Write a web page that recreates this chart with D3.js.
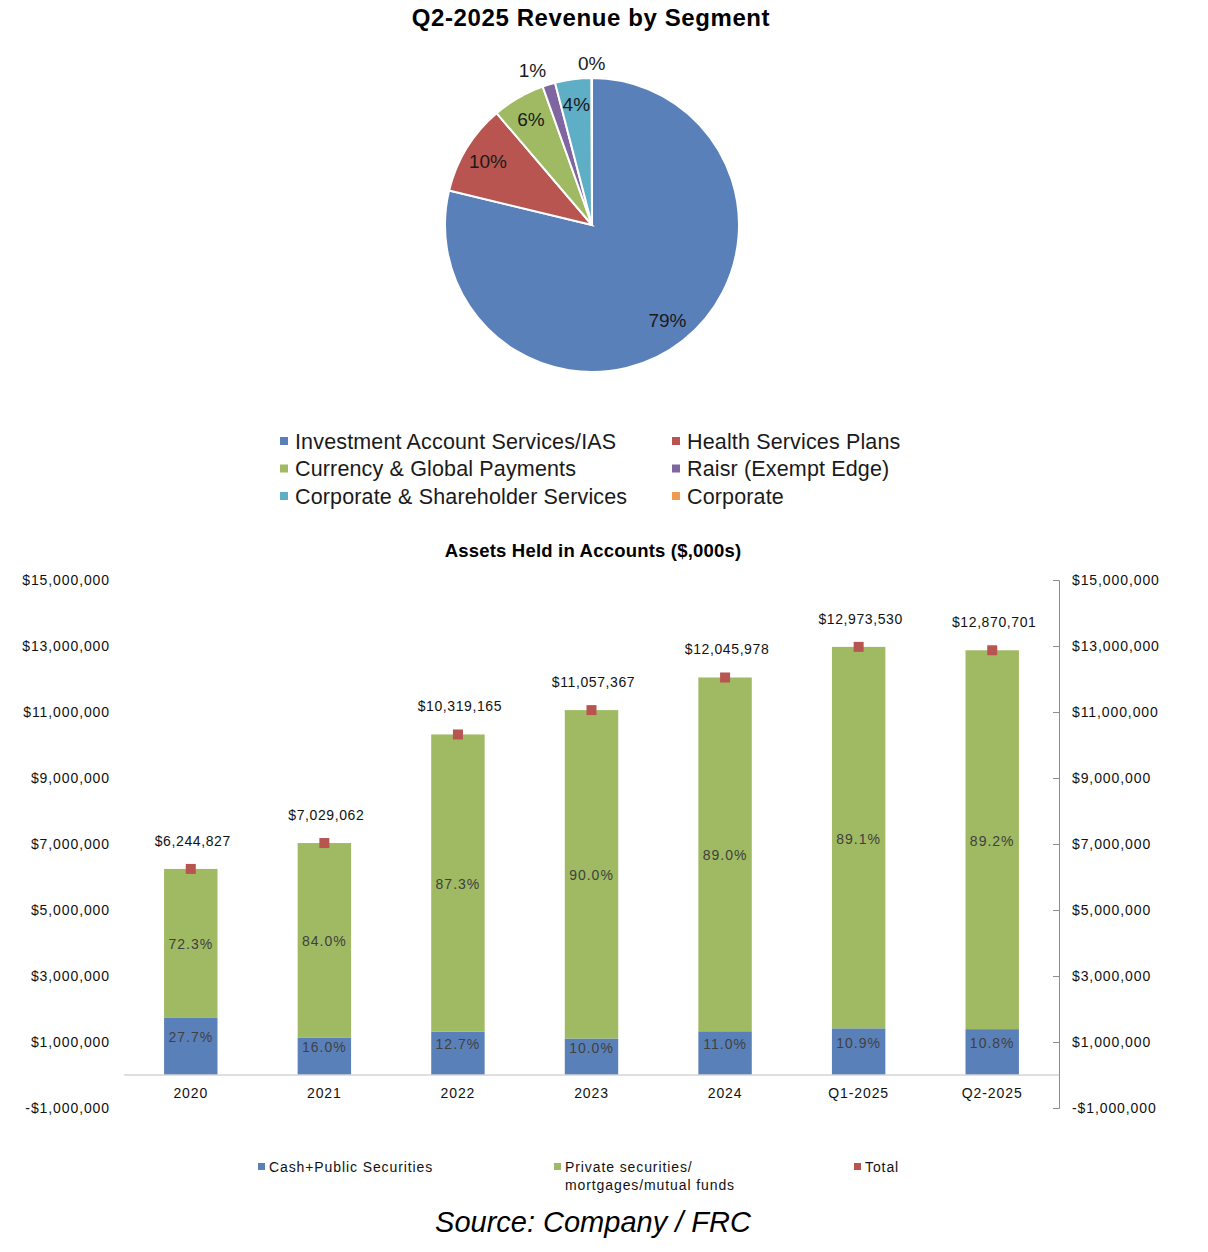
<!DOCTYPE html>
<html>
<head>
<meta charset="utf-8">
<script src="https://cdn.jsdelivr.net/npm/d3@7"></script>
<style>
  body { margin: 0; background: #fff; }
  svg { display: block; font-family: "Liberation Sans", Arial, sans-serif; }
</style>
</head>
<body>
<svg id="chart" width="1208" height="1252"></svg>
<script>
//// DATA

// pie: Q2-2025 revenue by segment (share of total, %)
const segments = [
    "Investment Account Services/IAS",
    "Health Services Plans",
    "Currency & Global Payments",
    "Raisr (Exempt Edge)",
    "Corporate & Shareholder Services",
    "Corporate",
];
const segmentShare = [78.8, 10.0, 5.8, 1.4, 4.0, 0.05];
const segmentLabels = ["79%", "10%", "6%", "1%", "4%", "0%"];
const segmentColors = ["#5a80b9", "#b85551", "#9fba62", "#7f66a0", "#5eaec6", "#f09a52"];

// bars: assets held in accounts ($,000s)
const periods = ["2020", "2021", "2022", "2023", "2024", "Q1-2025", "Q2-2025"];
const totals = [6244827, 7029062, 10319165, 11057367, 12045978, 12973530, 12870701];
const cashShare = [27.7, 16.0, 12.7, 10.0, 11.0, 10.9, 10.8];
const privateShare = [72.3, 84.0, 87.3, 90.0, 89.0, 89.1, 89.2];
const yTicks = [-1000000, 1000000, 3000000, 5000000, 7000000, 9000000, 11000000, 13000000, 15000000];
const seriesNames = ["Cash+Public Securities", ["Private securities/", "mortgages/mutual funds"], "Total"];
const seriesColors = ["#5a80b9", "#9fba62", "#b85551"];

//// SETUP

const svg = d3.select("#chart");
const fmtMoney = (v) => (v < 0 ? "-$" : "$") + d3.format(",")(Math.abs(v));

//// PIE

function drawPie() {
    const cx = 592, cy = 225, r = 147;
    const g = svg.append("g").attr("transform", `translate(${cx},${cy})`);

    svg.append("text")
        .attr("x", 591).attr("y", 26)
        .attr("text-anchor", "middle")
        .style("font-size", "24px").style("font-weight", "bold")
        .style("letter-spacing", "0.6px")
        .text("Q2-2025 Revenue by Segment");

    const pie = d3.pie().sort(null).value((d) => d);
    const arcs = pie(segmentShare);
    const arc = d3.arc().innerRadius(0).outerRadius(r);

    g.selectAll("path")
        .data(arcs)
        .enter()
        .append("path")
        .attr("d", arc)
        .style("fill", (d, i) => segmentColors[i])
        .style("stroke", "#fff")
        .style("stroke-width", "2px");

    // inside labels on the big slices, outside ones on the slivers
    const inner = d3.arc().innerRadius(r * 0.83).outerRadius(r * 0.83);
    const outer = d3.arc().innerRadius(r * 1.10).outerRadius(r * 1.10);
    g.selectAll(".plabel")
        .data(arcs)
        .enter()
        .append("text")
        .attr("class", "plabel")
        .attr("transform", (d, i) => {
            const p = (i === 3 || i === 5) ? outer.centroid(d) : inner.centroid(d);
            if (i === 3) p[0] -= 12;
            return `translate(${p})`;
        })
        .attr("text-anchor", "middle")
        .attr("dy", "0.35em")
        .style("font-size", "19px")
        .style("fill", "#1a1a1a")
        .text((d, i) => segmentLabels[i]);

    // legend, two columns
    const leg = svg.append("g");
    segments.forEach((name, i) => {
        const x = i % 2 === 0 ? 280 : 672;
        const y = 441 + Math.floor(i / 2) * 27.5;
        leg.append("rect")
            .attr("x", x).attr("y", y - 4)
            .attr("width", 8).attr("height", 8)
            .style("fill", segmentColors[i]);
        leg.append("text")
            .attr("x", x + 15).attr("y", y)
            .attr("dy", "0.35em")
            .style("font-size", "21.5px")
            .style("letter-spacing", "0.15px")
            .style("fill", "#1a1a1a")
            .text(name);
    });
}

//// BARS

function drawBars() {
    const left = 124, right = 1059, top = 580, bottom = 1108;

    const x = d3.scaleBand().domain(periods).range([left, right])
        .paddingInner(0.6).paddingOuter(0.3);
    const y = d3.scaleLinear().domain([-1000000, 15000000]).range([bottom, top]);

    svg.append("text")
        .attr("x", 593).attr("y", 557)
        .attr("text-anchor", "middle")
        .style("font-size", "18.5px").style("font-weight", "bold")
        .style("letter-spacing", "0.2px")
        .text("Assets Held in Accounts ($,000s)");

    // left axis: labels only
    const yl = svg.append("g")
        .attr("transform", `translate(${left - 14},0)`)
        .call(d3.axisLeft(y).tickValues(yTicks).tickSize(0).tickPadding(0).tickFormat(fmtMoney));
    yl.select(".domain").remove();

    // right axis: line with ticks pointing inward
    const yr = svg.append("g")
        .attr("transform", `translate(${right},0)`)
        .call(d3.axisRight(y).tickValues(yTicks).tickSizeInner(-6).tickSizeOuter(-6)
            .tickPadding(13).tickFormat(fmtMoney));
    yr.select(".domain").style("stroke", "#8c8c8c");
    yr.selectAll(".tick line").style("stroke", "#8c8c8c");

    [yl, yr].forEach((ax) => {
        ax.selectAll("text")
            .style("font-family", "Liberation Sans, Arial, sans-serif")
            .style("font-size", "14px")
            .style("letter-spacing", "0.9px")
            .style("fill", "#111");
    });

    const rows = periods.map((p, i) => {
        const cash = totals[i] * cashShare[i] / 100;
        return { p, total: totals[i], cash, cashPct: cashShare[i], privPct: privateShare[i] };
    });

    // cash segment
    svg.selectAll(".cash")
        .data(rows)
        .enter()
        .append("rect")
        .attr("class", "cash")
        .attr("x", (d) => x(d.p))
        .attr("width", x.bandwidth())
        .attr("y", (d) => y(d.cash))
        .attr("height", (d) => y(0) - y(d.cash))
        .style("fill", seriesColors[0]);

    // private segment stacked on top
    svg.selectAll(".priv")
        .data(rows)
        .enter()
        .append("rect")
        .attr("class", "priv")
        .attr("x", (d) => x(d.p))
        .attr("width", x.bandwidth())
        .attr("y", (d) => y(d.total))
        .attr("height", (d) => y(d.cash) - y(d.total))
        .style("fill", seriesColors[1]);

    // category axis along zero
    svg.append("line")
        .attr("x1", left).attr("x2", right)
        .attr("y1", y(0)).attr("y2", y(0))
        .style("stroke", "#d4d4d4").style("stroke-width", "1.5px");

    const xa = svg.append("g")
        .attr("transform", `translate(0,${y(0)})`)
        .call(d3.axisBottom(x).tickSize(0).tickPadding(13));
    xa.select(".domain").remove();
    xa.selectAll("text")
        .style("font-family", "Liberation Sans, Arial, sans-serif")
        .style("font-size", "14px")
        .style("letter-spacing", "0.9px")
        .style("fill", "#111");

    // percent labels
    const pctStyle = (sel) => sel
        .attr("text-anchor", "middle")
        .attr("dy", "0.35em")
        .style("font-size", "14px")
        .style("letter-spacing", "1px")
        .style("fill", "#404040");

    svg.selectAll(".cashlbl")
        .data(rows)
        .enter()
        .append("text")
        .attr("class", "cashlbl")
        .attr("x", (d) => x(d.p) + x.bandwidth() / 2)
        .attr("y", (d) => (y(0) + y(d.cash)) / 2 - 9)
        .call(pctStyle)
        .text((d) => d.cashPct.toFixed(1) + "%");

    svg.selectAll(".privlbl")
        .data(rows)
        .enter()
        .append("text")
        .attr("class", "privlbl")
        .attr("x", (d) => x(d.p) + x.bandwidth() / 2)
        .attr("y", (d) => (y(d.cash) + y(d.total)) / 2 + 1)
        .call(pctStyle)
        .text((d) => d.privPct.toFixed(1) + "%");

    // total markers and labels
    svg.selectAll(".tot")
        .data(rows)
        .enter()
        .append("rect")
        .attr("class", "tot")
        .attr("x", (d) => x(d.p) + x.bandwidth() / 2 - 5)
        .attr("y", (d) => y(d.total) - 5)
        .attr("width", 10).attr("height", 10)
        .style("fill", seriesColors[2]);

    svg.selectAll(".totlbl")
        .data(rows)
        .enter()
        .append("text")
        .attr("class", "totlbl")
        .attr("x", (d) => x(d.p) + x.bandwidth() / 2 + 2)
        .attr("y", (d) => y(d.total) - 28)
        .attr("text-anchor", "middle")
        .attr("dy", "0.35em")
        .style("font-size", "14px")
        .style("letter-spacing", "0.6px")
        .style("fill", "#111")
        .text((d) => fmtMoney(d.total));

    // legend
    const legX = [258, 554, 854];
    seriesNames.forEach((name, i) => {
        svg.append("rect")
            .attr("x", legX[i]).attr("y", 1163)
            .attr("width", 7).attr("height", 7)
            .style("fill", seriesColors[i]);
        const lines = Array.isArray(name) ? name : [name];
        lines.forEach((ln, j) => {
            svg.append("text")
                .attr("x", legX[i] + 11).attr("y", 1167 + j * 18)
                .attr("dy", "0.35em")
                .style("font-size", "14px")
                .style("letter-spacing", "0.9px")
                .style("fill", "#111")
                .text(ln);
        });
    });

    svg.append("text")
        .attr("x", 593).attr("y", 1232)
        .attr("text-anchor", "middle")
        .style("font-size", "29px")
        .style("font-style", "italic")
        .text("Source: Company / FRC");
}

drawPie();
drawBars();
</script>
</body>
</html>
